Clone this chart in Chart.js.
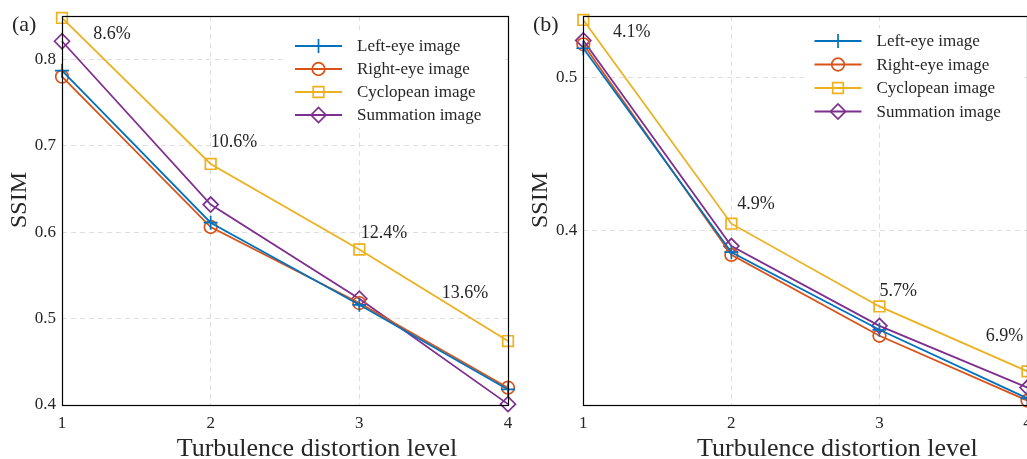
<!DOCTYPE html>
<html>
<head>
<meta charset="utf-8">
<script src="https://cdn.jsdelivr.net/npm/chart.js@4.4.0/dist/chart.umd.min.js"></script>
<style>
  html, body { margin: 0; padding: 0; background: #fff; overflow: hidden; width: 1027px; height: 459px; }
  .panel { position: absolute; top: 0; width: 530px; height: 459px; }
  #wa { left: 0; }
  #wb { left: 521px; }
</style>
</head>
<body>
<div class="panel" id="wa"><canvas id="chartA" width="530" height="459"></canvas></div>
<div class="panel" id="wb"><canvas id="chartB" width="530" height="459"></canvas></div>
<script>
const levels = [1, 2, 3, 4]
const seriesNames = ['Left-eye image', 'Right-eye image', 'Cyclopean image', 'Summation image']

// panel (a), linear SSIM axis
const leftA = [0.787, 0.611, 0.516, 0.418]
const rightA = [0.780, 0.606, 0.518, 0.420]
const cycloA = [0.848, 0.679, 0.580, 0.474]
const sumA = [0.821, 0.632, 0.523, 0.401]
const yTicksA = [0.4, 0.5, 0.6, 0.7, 0.8]
const gainA = ['8.6%', '10.6%', '12.4%', '13.6%']
const gainAX = [1.21, 2.0, 3.01, 3.555]
const gainAY = [0.829, 0.704, 0.599, 0.529]

// panel (b), log SSIM axis
const leftB = [0.522, 0.3875, 0.346, 0.313]
const rightB = [0.525, 0.386, 0.343, 0.312]
const cycloB = [0.544, 0.404, 0.358, 0.3256]
const sumB = [0.528, 0.391, 0.348, 0.318]
const yTicksB = [0.4, 0.5]
const gainB = ['4.1%', '4.9%', '5.7%', '6.9%']
const gainBX = [1.20, 2.04, 3.0, 3.718]
const gainBY = [0.534, 0.4157, 0.366, 0.3425]

const colors = ['#0072BD', '#D95319', '#EDB120', '#7E2F8E']
const markers = [
  { pointStyle: 'cross', radius: 7 },
  { pointStyle: 'circle', radius: 6.3 },
  { pointStyle: 'rect', radius: 7.5 },
  { pointStyle: 'rectRot', radius: 7.5 }
]
const SERIF = '"Liberation Serif", "DejaVu Serif", serif'
const TXT = '#262626'

const makeDatasets = (series) => series.map((vals, i) => ({
  label: seriesNames[i],
  data: vals.map((v, k) => ({ x: levels[k], y: v })),
  borderColor: colors[i],
  backgroundColor: 'rgba(0,0,0,0)',
  borderWidth: 1.8,
  tension: 0,
  pointStyle: markers[i].pointStyle,
  pointRadius: markers[i].radius,
  pointHoverRadius: markers[i].radius,
  pointBorderWidth: 1.7,
  pointBorderColor: colors[i],
  pointBackgroundColor: 'rgba(0,0,0,0)',
  clip: false
}))

const extras = (cfg) => ({
  id: 'extras',
  afterDraw(chart) {
    const { ctx, chartArea: a, scales } = chart
    ctx.save()

    // axes box
    ctx.strokeStyle = '#000'
    ctx.lineWidth = 1.2
    ctx.strokeRect(Math.round(a.left) + 0.5, Math.round(a.top) + 0.5,
      Math.round(a.right - a.left), Math.round(a.bottom - a.top))

    // gain labels
    ctx.fillStyle = TXT
    ctx.font = '18px ' + SERIF
    ctx.textAlign = 'left'
    ctx.textBaseline = 'middle'
    cfg.gain.forEach((t, i) => {
      ctx.fillText(t, scales.x.getPixelForValue(cfg.gx[i]), scales.y.getPixelForValue(cfg.gy[i]))
    })

    // legend
    const lx = a.right - 213
    ctx.fillStyle = '#fff'
    ctx.fillRect(lx - 10, cfg.legendY - 13, 220, cfg.legendStep * 3 + 26)
    chart.data.datasets.forEach((ds, i) => {
      const y = cfg.legendY + i * cfg.legendStep
      ctx.strokeStyle = ds.borderColor
      ctx.lineWidth = ds.borderWidth
      ctx.beginPath()
      ctx.moveTo(lx, y)
      ctx.lineTo(lx + 47, y)
      ctx.stroke()
      ctx.lineWidth = ds.pointBorderWidth
      ctx.fillStyle = 'rgba(0,0,0,0)'
      Chart.helpers.drawPoint(ctx, {
        pointStyle: ds.pointStyle, radius: ds.pointRadius, rotation: 0, borderWidth: ds.pointBorderWidth
      }, lx + 23.5, y)
      ctx.fillStyle = TXT
      ctx.font = '17px ' + SERIF
      ctx.textAlign = 'left'
      ctx.textBaseline = 'middle'
      ctx.fillText(ds.label, lx + 62, y + 1)
    })

    // panel tag
    ctx.font = '22px ' + SERIF
    ctx.fillStyle = TXT
    ctx.fillText(cfg.tag, 12, 25)

    // axis titles
    ctx.font = '26px ' + SERIF
    ctx.textAlign = 'center'
    ctx.textBaseline = 'alphabetic'
    ctx.fillText('Turbulence distortion level', (a.left + a.right) / 2 + 32, 456)
    ctx.translate(26, 200)
    ctx.rotate(-Math.PI / 2)
    ctx.font = '24px ' + SERIF
    ctx.fillText('SSIM', 0, 0)
    ctx.restore()
  }
})

const makeChart = (id, series, yCfg, cfg) => {
  const ctx = document.getElementById(id)
  return new Chart(ctx, {
    type: 'line',
    data: { datasets: makeDatasets(series) },
    options: {
      responsive: false,
      animation: false,
      events: [],
      layout: { padding: { left: 0, top: 10, right: cfg.padRight, bottom: 0 } },
      plugins: { legend: { display: false }, tooltip: { enabled: false } },
      scales: {
        x: {
          type: 'linear',
          min: 1,
          max: 4,
          afterBuildTicks: (s) => { s.ticks = levels.map(v => ({ value: v })) },
          afterFit: (s) => { s.height = 54 },
          grid: { color: '#dedede', lineWidth: 1, drawTicks: false },
          border: { display: false, dash: [5, 4] },
          ticks: { color: TXT, font: { family: SERIF, size: 17 }, padding: 8, callback: (v) => String(v) }
        },
        y: {
          type: yCfg.type,
          min: yCfg.min,
          max: yCfg.max,
          afterBuildTicks: (s) => { s.ticks = yCfg.ticks.map(v => ({ value: v })) },
          afterFit: (s) => { s.width = cfg.axisWidth },
          grid: { color: '#dedede', lineWidth: 1, drawTicks: false },
          border: { display: false, dash: [5, 4] },
          ticks: { color: TXT, font: { family: SERIF, size: 17 }, padding: 6, callback: (v) => Number(v).toFixed(1) }
        }
      }
    },
    plugins: [extras(cfg)]
  })
}

makeChart('chartA', [leftA, rightA, cycloA, sumA],
  { type: 'linear', min: 0.4, max: 0.85, ticks: yTicksA },
  { tag: '(a)', gain: gainA, gx: gainAX, gy: gainAY, legendY: 46, legendStep: 23, padRight: 22, axisWidth: 62 })

makeChart('chartB', [leftB, rightB, cycloB, sumB],
  { type: 'logarithmic', min: 0.31, max: 0.547, ticks: yTicksB },
  { tag: '(b)', gain: gainB, gx: gainBX, gy: gainBY, legendY: 41, legendStep: 23.5, padRight: 23.5, axisWidth: 62.3 })
</script>
</body>
</html>
